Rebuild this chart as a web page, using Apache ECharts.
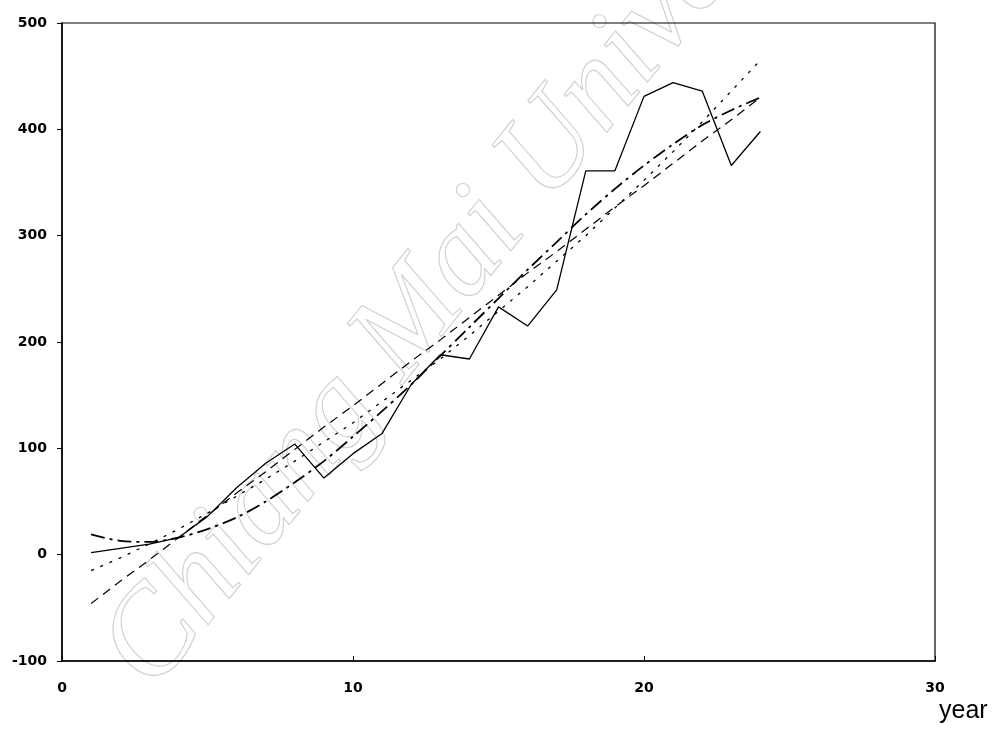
<!DOCTYPE html>
<html>
<head>
<meta charset="utf-8">
<script src="https://cdn.jsdelivr.net/npm/echarts@6/dist/echarts.min.js"></script>
<style>
html,body{margin:0;padding:0;background:#fff;}
#chart{width:1006px;height:729px;}
</style>
</head>
<body>
<div id="chart"></div>
<script>
// ---- data ----
var years = [1,2,3,4,5,6,7,8,9,10,11,12,13,14,15,16,17,18,19,20,21,22,23,24];
var actual = [2,6,10,16,36,63,86,104,72,95,114,160,188,184,233,215,249,361,361,431,444,436,366,398];
var linearTrend = [-46,-25,-5,16,37,58,78,99,120,140,161,182,202,223,244,265,285,306,327,347,368,389,409,430];
var quadTrend = [-15,-3,10,24,39,55,71,88,106,124,144,164,184,206,229,252,276,300,326,352,379,407,436,465];
var cubicTrend = [19,13,12,16,24,35,50,68,88,111,135,160,187,214,241,268,294,320,344,366,386,404,418,430];
var xTicks = [0,10,20,30];
var yTicks = [-100,0,100,200,300,400,500];

function pairs(ys){ return years.map(function(x,i){ return [x, ys[i]]; }); }

var chart = echarts.init(document.getElementById('chart'), null, {renderer:'canvas'});
var labelFont = {color:'#000', fontFamily:'DejaVu Sans', fontWeight:'bold', fontSize:14};

chart.setOption({
  animation:false,
  backgroundColor:'#fff',
  grid:{left:62, right:71, top:23, bottom:68, show:true, borderColor:'#000', borderWidth:1.2, backgroundColor:'transparent'},
  xAxis:{
    type:'value', min:xTicks[0], max:xTicks[xTicks.length-1], interval:10,
    axisLine:{show:true, onZero:false, lineStyle:{color:'#000', width:1.5}},
    axisTick:{show:true, inside:true, length:5, lineStyle:{color:'#000'}},
    splitLine:{show:false},
    axisLabel:Object.assign({margin:20}, labelFont),
    name:'year', nameLocation:'end', nameGap:0,
    nameTextStyle:{color:'#000', fontFamily:'Liberation Sans', fontSize:25, align:'left', verticalAlign:'top', padding:[38,0,0,4]}
  },
  yAxis:{
    type:'value', min:yTicks[0], max:yTicks[yTicks.length-1], interval:100,
    axisLine:{show:true, onZero:false, lineStyle:{color:'#000', width:1.5}},
    axisTick:{show:true, inside:false, length:5, lineStyle:{color:'#000'}},
    splitLine:{show:false},
    axisLabel:Object.assign({margin:15}, labelFont)
  },
  graphic:[{
    type:'text', silent:true, z:-1,
    x:176, y:711, rotation:51*Math.PI/180,
    style:{text:'Chiang Mai University', font:'italic 124px "Liberation Serif"', fill:'rgba(0,0,0,0)', stroke:'#cfcfcf', lineWidth:1.1, textAlign:'left', textVerticalAlign:'bottom'}
  }],
  series:[
    {name:'actual', type:'line', data:pairs(actual), showSymbol:false, symbol:'none', lineStyle:{color:'#000', width:1.3, type:'solid'}, z:5},
    {name:'linear', type:'line', data:pairs(linearTrend), showSymbol:false, symbol:'none', lineStyle:{color:'#000', width:1.2, type:[9,6]}, z:4},
    {name:'quadratic', type:'line', data:pairs(quadTrend), showSymbol:false, symbol:'none', lineStyle:{color:'#000', width:1.3, type:[3,7]}, z:4},
    {name:'cubic', type:'line', data:pairs(cubicTrend), smooth:0.3, showSymbol:false, symbol:'none', lineStyle:{color:'#000', width:1.8, type:[14,5,3,5]}, z:4}
  ]
});
</script>
</body>
</html>
